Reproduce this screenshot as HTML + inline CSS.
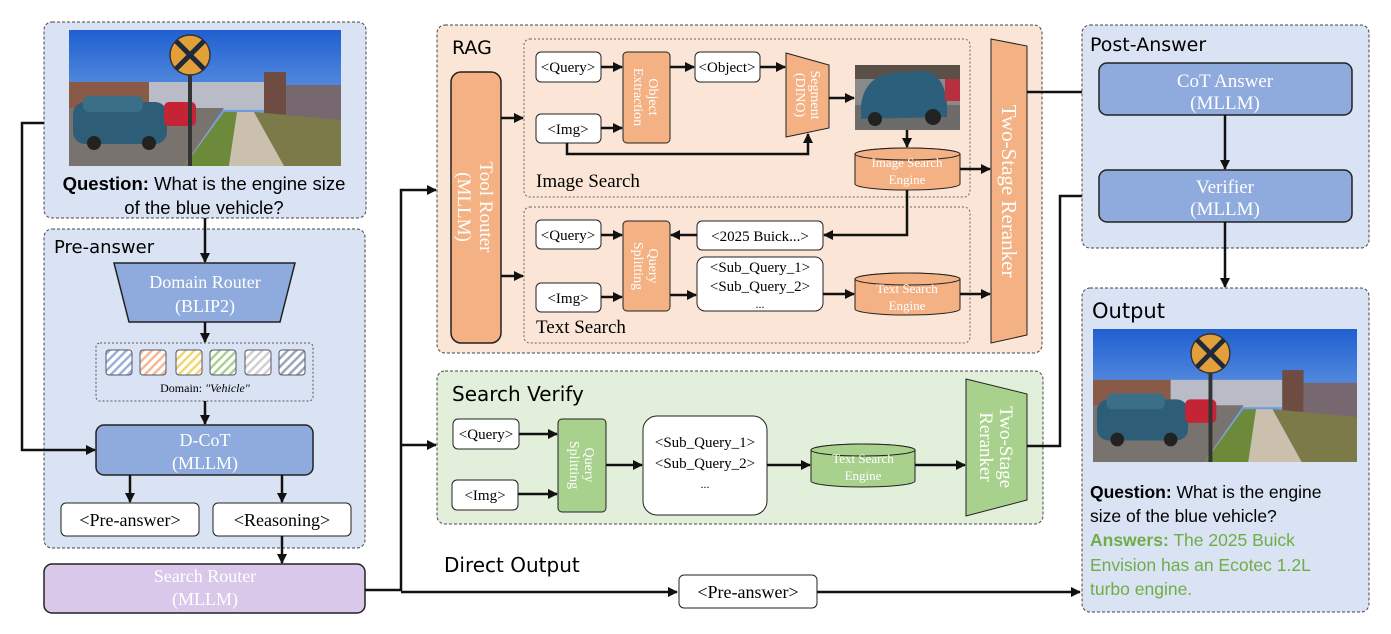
<!DOCTYPE html>
<html><head><meta charset="utf-8"><style>
html,body{margin:0;padding:0;background:#fff}
svg{display:block}
.ser{font-family:"Liberation Serif",serif}
.hand{font-family:"DejaVu Sans",sans-serif}
.san{font-family:"Liberation Sans",sans-serif}
</style></head><body>
<svg width="1391" height="634" viewBox="0 0 1391 634" xmlns="http://www.w3.org/2000/svg">
<defs>
<marker id="a" viewBox="0 0 10 10" refX="9" refY="5" markerWidth="4" markerHeight="4" orient="auto"><path d="M0,0L10,5L0,10z" fill="#111"/></marker>
<linearGradient id="sky" x1="0" y1="0" x2="0" y2="1"><stop offset="0" stop-color="#1f5fd0"/><stop offset="1" stop-color="#9cc4ee"/></linearGradient>
<symbol id="photo" viewBox="0 0 272 136" preserveAspectRatio="none">
<rect width="272" height="136" fill="url(#sky)"/>
<rect x="0" y="52" width="80" height="30" fill="#8a5a48"/>
<rect x="80" y="52" width="115" height="28" fill="#b9bbc6"/>
<rect x="195" y="42" width="22" height="52" fill="#6e4c42"/>
<rect x="217" y="55" width="55" height="38" fill="#76686e"/>
<polygon points="0,78 155,78 115,136 0,136" fill="#78736f"/>
<polygon points="115,136 155,82 168,82 160,136" fill="#6d8a3a"/>
<polygon points="160,136 168,82 185,82 215,136" fill="#cbbfae"/>
<polygon points="185,82 272,90 272,136 215,136" fill="#7c7a48"/>
<rect x="4" y="72" width="94" height="42" rx="12" fill="#2e5e77"/>
<rect x="14" y="66" width="60" height="16" rx="6" fill="#3b6f88"/>
<circle cx="25" cy="113" r="7" fill="#222"/><circle cx="80" cy="113" r="7" fill="#222"/>
<rect x="95" y="72" width="32" height="24" rx="5" fill="#c42436"/>
<rect x="119" y="40" width="4" height="96" fill="#333"/>
<circle cx="121" cy="25" r="20" fill="#e3a03a" stroke="#333" stroke-width="1.5"/>
<path d="M107,11L135,39M135,11L107,39" stroke="#1e2a3a" stroke-width="5"/>
</symbol>
<pattern id="h1" width="6" height="6" patternUnits="userSpaceOnUse" patternTransform="rotate(45)"><rect width="6" height="6" fill="#fff"/><rect width="2.5" height="6" fill="#9ab0dc"/></pattern>
<pattern id="h2" width="6" height="6" patternUnits="userSpaceOnUse" patternTransform="rotate(45)"><rect width="6" height="6" fill="#fff"/><rect width="2.5" height="6" fill="#f4b896"/></pattern>
<pattern id="h3" width="6" height="6" patternUnits="userSpaceOnUse" patternTransform="rotate(45)"><rect width="6" height="6" fill="#fff"/><rect width="2.5" height="6" fill="#f5d66e"/></pattern>
<pattern id="h4" width="6" height="6" patternUnits="userSpaceOnUse" patternTransform="rotate(45)"><rect width="6" height="6" fill="#fff"/><rect width="2.5" height="6" fill="#a8d192"/></pattern>
<pattern id="h5" width="6" height="6" patternUnits="userSpaceOnUse" patternTransform="rotate(45)"><rect width="6" height="6" fill="#fff"/><rect width="2.5" height="6" fill="#cfcfcf"/></pattern>
<pattern id="h6" width="6" height="6" patternUnits="userSpaceOnUse" patternTransform="rotate(45)"><rect width="6" height="6" fill="#fff"/><rect width="2.5" height="6" fill="#9ca6b8"/></pattern>
</defs>

<!-- Left column -->
<rect x="44" y="22" width="322" height="196" rx="8" fill="#dae3f3" stroke="#444" stroke-dasharray="3,2"/>
<use href="#photo" x="69" y="30" width="272" height="136"/>
<text x="204" y="190" text-anchor="middle" class="san" font-size="18.5"><tspan font-weight="bold">Question:</tspan> What is the engine size</text>
<text x="204" y="214" text-anchor="middle" class="san" font-size="18.5">of the blue vehicle?</text>

<rect x="44" y="229" width="321" height="319" rx="8" fill="#dae3f3" stroke="#444" stroke-dasharray="3,2"/>
<text x="54" y="253" class="hand" font-size="18">Pre-answer</text>
<line x1="205" y1="218" x2="205" y2="262" stroke="#111" stroke-width="2.5" marker-end="url(#a)"/>
<polygon points="114,263 295,263 280,322 129,322" fill="#8faadc" stroke="#222" stroke-width="1.5"/>
<text x="205" y="288" text-anchor="middle" class="ser" font-size="18" fill="#fff">Domain Router</text>
<text x="205" y="312" text-anchor="middle" class="ser" font-size="18" fill="#fff">(BLIP2)</text>
<line x1="205" y1="322" x2="205" y2="342" stroke="#111" stroke-width="2.5" marker-end="url(#a)"/>
<rect x="96" y="343" width="217" height="58" rx="4" fill="#dae3f3" stroke="#555" stroke-dasharray="2,2"/>
<rect x="106" y="350" width="26" height="25" rx="3" fill="url(#h1)" stroke="#556" />
<rect x="140" y="350" width="26" height="25" rx="3" fill="url(#h2)" stroke="#556"/>
<rect x="176" y="350" width="26" height="25" rx="3" fill="url(#h3)" stroke="#556"/>
<rect x="210" y="350" width="26" height="25" rx="3" fill="url(#h4)" stroke="#556"/>
<rect x="245" y="350" width="26" height="25" rx="3" fill="url(#h5)" stroke="#556"/>
<rect x="279" y="350" width="26" height="25" rx="3" fill="url(#h6)" stroke="#556"/>
<text x="205" y="392" text-anchor="middle" class="ser" font-size="12">Domain: <tspan font-style="italic">"Vehicle"</tspan></text>
<line x1="205" y1="401" x2="205" y2="424" stroke="#111" stroke-width="2.5" marker-end="url(#a)"/>
<rect x="96" y="425" width="217" height="50" rx="8" fill="#8faadc" stroke="#222" stroke-width="1.5"/>
<text x="205" y="446" text-anchor="middle" class="ser" font-size="18" fill="#fff">D-CoT</text>
<text x="205" y="469" text-anchor="middle" class="ser" font-size="18" fill="#fff">(MLLM)</text>
<polyline points="44,123 22,123 22,450 95,450" fill="none" stroke="#111" stroke-width="2.5" marker-end="url(#a)"/>
<line x1="130" y1="475" x2="130" y2="502" stroke="#111" stroke-width="2.5" marker-end="url(#a)"/>
<line x1="282" y1="475" x2="282" y2="502" stroke="#111" stroke-width="2.5" marker-end="url(#a)"/>
<rect x="61" y="503" width="138" height="33" rx="5" fill="#fff" stroke="#222"/>
<text x="130" y="526" text-anchor="middle" class="ser" font-size="18">&lt;Pre-answer&gt;</text>
<rect x="213" y="503" width="138" height="33" rx="5" fill="#fff" stroke="#222"/>
<text x="282" y="526" text-anchor="middle" class="ser" font-size="18">&lt;Reasoning&gt;</text>
<line x1="282" y1="536" x2="282" y2="563" stroke="#111" stroke-width="2.5" marker-end="url(#a)"/>
<rect x="44" y="564" width="321" height="49" rx="8" fill="#d9c8ea" stroke="#222" stroke-width="1.5"/>
<text x="205" y="582" text-anchor="middle" class="ser" font-size="18" fill="#fff">Search Router</text>
<text x="205" y="605" text-anchor="middle" class="ser" font-size="18" fill="#fff">(MLLM)</text>

<!-- router connections -->
<polyline points="365,590 401,590 401,190 436,190" fill="none" stroke="#111" stroke-width="2.5" marker-end="url(#a)"/>
<line x1="401" y1="445" x2="436" y2="445" stroke="#111" stroke-width="2.5" marker-end="url(#a)"/>
<line x1="401" y1="592" x2="677" y2="592" stroke="#111" stroke-width="2.5" marker-end="url(#a)"/>
<line x1="817" y1="592" x2="1080" y2="592" stroke="#111" stroke-width="2.5" marker-end="url(#a)"/>
<text x="444" y="572" class="hand" font-size="20">Direct Output</text>
<rect x="679" y="575" width="138" height="33" rx="5" fill="#fff" stroke="#222"/>
<text x="748" y="598" text-anchor="middle" class="ser" font-size="18">&lt;Pre-answer&gt;</text>

<!-- RAG -->
<rect x="437" y="25" width="605" height="328" rx="8" fill="#fbe5d6" stroke="#444" stroke-dasharray="3,2"/>
<text x="452" y="54" class="hand" font-size="19">RAG</text>
<rect x="451" y="72" width="50" height="271" rx="10" fill="#f4b183" stroke="#222" stroke-width="1.5"/>
<text transform="translate(476,207) rotate(90)" text-anchor="middle" class="ser" font-size="19" fill="#fff"><tspan x="0" dy="-4">Tool Router</tspan><tspan x="0" dy="22">(MLLM)</tspan></text>
<rect x="524" y="39" width="446" height="158" rx="6" fill="none" stroke="#666" stroke-dasharray="2,2"/>
<rect x="524" y="207" width="446" height="136" rx="6" fill="none" stroke="#666" stroke-dasharray="2,2"/>
<line x1="501" y1="118" x2="523" y2="118" stroke="#111" stroke-width="2.5" marker-end="url(#a)"/>
<line x1="501" y1="276" x2="523" y2="276" stroke="#111" stroke-width="2.5" marker-end="url(#a)"/>
<text x="536" y="187" class="ser" font-size="19">Image Search</text>
<text x="536" y="333" class="ser" font-size="19">Text Search</text>

<rect x="536" y="52" width="65" height="30" rx="5" fill="#fff" stroke="#222"/>
<text x="568" y="72" text-anchor="middle" class="ser" font-size="15">&lt;Query&gt;</text>
<rect x="536" y="114" width="65" height="29" rx="5" fill="#fff" stroke="#222"/>
<text x="568" y="134" text-anchor="middle" class="ser" font-size="15">&lt;Img&gt;</text>
<line x1="601" y1="67" x2="622" y2="67" stroke="#111" stroke-width="2.5" marker-end="url(#a)"/>
<line x1="601" y1="128" x2="622" y2="128" stroke="#111" stroke-width="2.5" marker-end="url(#a)"/>
<rect x="623" y="52" width="47" height="91" rx="4" fill="#f4b183" stroke="#222"/>
<text transform="translate(646,97) rotate(90)" text-anchor="middle" class="ser" font-size="14" fill="#fff"><tspan x="0" dy="-3">Object</tspan><tspan x="0" dy="15">Extraction</tspan></text>
<line x1="670" y1="67" x2="694" y2="67" stroke="#111" stroke-width="2.5" marker-end="url(#a)"/>
<rect x="695" y="52" width="65" height="30" rx="5" fill="#fff" stroke="#222"/>
<text x="727" y="72" text-anchor="middle" class="ser" font-size="15">&lt;Object&gt;</text>
<line x1="760" y1="67" x2="785" y2="67" stroke="#111" stroke-width="2.5" marker-end="url(#a)"/>
<polygon points="786,53 829,65 829,128 786,137" fill="#f4b183" stroke="#222"/>
<text transform="translate(808,95) rotate(90)" text-anchor="middle" class="ser" font-size="14" fill="#fff"><tspan x="0" dy="-3">Segment</tspan><tspan x="0" dy="15">(DINO)</tspan></text>
<polyline points="567,143 567,154 808,154 808,134" fill="none" stroke="#111" stroke-width="2.5" marker-end="url(#a)"/>
<line x1="829" y1="98" x2="854" y2="98" stroke="#111" stroke-width="2.5" marker-end="url(#a)"/>
<svg x="855" y="65" width="105" height="65" viewBox="0 0 105 65" preserveAspectRatio="none">
<rect width="105" height="65" fill="#8a8a88"/><rect width="105" height="14" fill="#5a5048"/>
<rect x="0" y="40" width="105" height="25" fill="#6d6c6a"/>
<path d="M6,40 Q10,10 40,8 L70,6 Q90,10 92,40 L92,52 L6,54z" fill="#2c5f7b"/>
<circle cx="78" cy="52" r="8" fill="#222"/><circle cx="20" cy="54" r="7" fill="#222"/>
<rect x="90" y="14" width="15" height="22" fill="#b83040"/>
</svg>
<line x1="907" y1="130" x2="907" y2="147" stroke="#111" stroke-width="2.5" marker-end="url(#a)"/>
<path d="M855,154 L855,184 A52,6 0 0 0 960,184 L960,154 A52,6 0 0 0 855,154z" fill="#f4b183" stroke="#222"/>
<ellipse cx="907.5" cy="154" rx="52.5" ry="6" fill="#f4b183" stroke="#222"/>
<text x="907" y="167" text-anchor="middle" class="ser" font-size="13" fill="#fff">Image Search</text>
<text x="907" y="184" text-anchor="middle" class="ser" font-size="13" fill="#fff">Engine</text>
<line x1="960" y1="169" x2="990" y2="169" stroke="#111" stroke-width="2.5" marker-end="url(#a)"/>
<polyline points="907,190 907,235 824,235" fill="none" stroke="#111" stroke-width="2.5" marker-end="url(#a)"/>

<rect x="536" y="220" width="65" height="29" rx="5" fill="#fff" stroke="#222"/>
<text x="568" y="240" text-anchor="middle" class="ser" font-size="15">&lt;Query&gt;</text>
<rect x="536" y="283" width="65" height="29" rx="5" fill="#fff" stroke="#222"/>
<text x="568" y="303" text-anchor="middle" class="ser" font-size="15">&lt;Img&gt;</text>
<line x1="601" y1="235" x2="622" y2="235" stroke="#111" stroke-width="2.5" marker-end="url(#a)"/>
<line x1="601" y1="297" x2="622" y2="297" stroke="#111" stroke-width="2.5" marker-end="url(#a)"/>
<rect x="623" y="221" width="47" height="90" rx="4" fill="#f4b183" stroke="#222"/>
<text transform="translate(646,266) rotate(90)" text-anchor="middle" class="ser" font-size="14" fill="#fff"><tspan x="0" dy="-3">Query</tspan><tspan x="0" dy="15">Splitting</tspan></text>
<rect x="697" y="221" width="126" height="29" rx="5" fill="#fff" stroke="#222"/>
<text x="760" y="241" text-anchor="middle" class="ser" font-size="15">&lt;2025 Buick...&gt;</text>
<line x1="697" y1="235" x2="671" y2="235" stroke="#111" stroke-width="2.5" marker-end="url(#a)"/>
<rect x="697" y="257" width="126" height="54" rx="8" fill="#fff" stroke="#222"/>
<text x="760" y="272" text-anchor="middle" class="ser" font-size="15">&lt;Sub_Query_1&gt;</text>
<text x="760" y="291" text-anchor="middle" class="ser" font-size="15">&lt;Sub_Query_2&gt;</text>
<text x="760" y="308" text-anchor="middle" class="ser" font-size="12">...</text>
<line x1="670" y1="295" x2="696" y2="295" stroke="#111" stroke-width="2.5" marker-end="url(#a)"/>
<line x1="823" y1="294" x2="854" y2="294" stroke="#111" stroke-width="2.5" marker-end="url(#a)"/>
<path d="M855,279 L855,309 A52,6 0 0 0 960,309 L960,279 A52,6 0 0 0 855,279z" fill="#f4b183" stroke="#222"/>
<ellipse cx="907.5" cy="279" rx="52.5" ry="6" fill="#f4b183" stroke="#222"/>
<text x="907" y="293" text-anchor="middle" class="ser" font-size="13" fill="#fff">Text Search</text>
<text x="907" y="310" text-anchor="middle" class="ser" font-size="13" fill="#fff">Engine</text>
<line x1="960" y1="294" x2="990" y2="294" stroke="#111" stroke-width="2.5" marker-end="url(#a)"/>

<polygon points="991,39 1027,46 1027,335 991,343" fill="#f4b183" stroke="#222"/>
<text transform="translate(1009,191) rotate(90)" text-anchor="middle" dy="7" class="ser" font-size="21" fill="#fff">Two-Stage Reranker</text>
<polyline points="1027,92 1098,92" fill="none" stroke="#111" stroke-width="2.5" marker-end="url(#a)"/>

<!-- Search Verify -->
<rect x="437" y="371" width="606" height="153" rx="8" fill="#e2efda" stroke="#444" stroke-dasharray="3,2"/>
<text x="452" y="401" class="hand" font-size="20">Search Verify</text>
<rect x="453" y="419" width="66" height="30" rx="5" fill="#fff" stroke="#222"/>
<text x="486" y="439" text-anchor="middle" class="ser" font-size="15">&lt;Query&gt;</text>
<rect x="452" y="480" width="66" height="30" rx="5" fill="#fff" stroke="#222"/>
<text x="485" y="500" text-anchor="middle" class="ser" font-size="15">&lt;Img&gt;</text>
<line x1="519" y1="434" x2="557" y2="434" stroke="#111" stroke-width="2.5" marker-end="url(#a)"/>
<line x1="518" y1="494" x2="557" y2="494" stroke="#111" stroke-width="2.5" marker-end="url(#a)"/>
<rect x="558" y="419" width="48" height="93" rx="4" fill="#a9d18e" stroke="#222"/>
<text transform="translate(582,465) rotate(90)" text-anchor="middle" class="ser" font-size="14" fill="#fff"><tspan x="0" dy="-3">Query</tspan><tspan x="0" dy="15">Splitting</tspan></text>
<line x1="606" y1="465" x2="642" y2="465" stroke="#111" stroke-width="2.5" marker-end="url(#a)"/>
<rect x="643" y="416" width="124" height="99" rx="14" fill="#fff" stroke="#222"/>
<text x="705" y="447" text-anchor="middle" class="ser" font-size="15">&lt;Sub_Query_1&gt;</text>
<text x="705" y="468" text-anchor="middle" class="ser" font-size="15">&lt;Sub_Query_2&gt;</text>
<text x="705" y="488" text-anchor="middle" class="ser" font-size="12">...</text>
<line x1="767" y1="465" x2="810" y2="465" stroke="#111" stroke-width="2.5" marker-end="url(#a)"/>
<path d="M811,450 L811,481 A52,6 0 0 0 915,481 L915,450 A52,6 0 0 0 811,450z" fill="#a9d18e" stroke="#222"/>
<ellipse cx="863" cy="450" rx="52" ry="6" fill="#a9d18e" stroke="#222"/>
<text x="863" y="463" text-anchor="middle" class="ser" font-size="13" fill="#fff">Text Search</text>
<text x="863" y="480" text-anchor="middle" class="ser" font-size="13" fill="#fff">Engine</text>
<line x1="915" y1="465" x2="965" y2="465" stroke="#111" stroke-width="2.5" marker-end="url(#a)"/>
<polygon points="966,379 1027,394 1027,500 966,516" fill="#a9d18e" stroke="#222"/>
<text transform="translate(997,447) rotate(90)" text-anchor="middle" class="ser" font-size="19" fill="#fff"><tspan x="0" dy="-3">Two-Stage</tspan><tspan x="0" dy="20">Reranker</tspan></text>
<polyline points="1027,446 1060,446 1060,196 1098,196" fill="none" stroke="#111" stroke-width="2.5" marker-end="url(#a)"/>

<!-- Post-answer -->
<rect x="1082" y="25" width="287" height="223" rx="8" fill="#dae3f3" stroke="#444" stroke-dasharray="3,2"/>
<text x="1090" y="51" class="hand" font-size="19">Post-Answer</text>
<rect x="1099" y="63" width="253" height="52" rx="8" fill="#8faadc" stroke="#222" stroke-width="1.5"/>
<text x="1225" y="87" text-anchor="middle" class="ser" font-size="19" fill="#fff">CoT Answer</text>
<text x="1225" y="109" text-anchor="middle" class="ser" font-size="19" fill="#fff">(MLLM)</text>
<line x1="1225" y1="115" x2="1225" y2="169" stroke="#111" stroke-width="2.5" marker-end="url(#a)"/>
<rect x="1099" y="170" width="253" height="52" rx="8" fill="#8faadc" stroke="#222" stroke-width="1.5"/>
<text x="1225" y="193" text-anchor="middle" class="ser" font-size="19" fill="#fff">Verifier</text>
<text x="1225" y="215" text-anchor="middle" class="ser" font-size="19" fill="#fff">(MLLM)</text>
<line x1="1225" y1="222" x2="1225" y2="287" stroke="#111" stroke-width="2.5" marker-end="url(#a)"/>

<rect x="1082" y="288" width="287" height="324" rx="8" fill="#dae3f3" stroke="#444" stroke-dasharray="3,2"/>
<text x="1092" y="318" class="hand" font-size="21">Output</text>
<use href="#photo" x="1093" y="329" width="264" height="133"/>
<text x="1090" y="498" class="san" font-size="17.5"><tspan font-weight="bold">Question:</tspan> What is the engine</text>
<text x="1090" y="522" class="san" font-size="17.5">size of the blue vehicle?</text>
<text x="1090" y="546" class="san" font-size="17.5" fill="#70ad47"><tspan font-weight="bold">Answers:</tspan> The 2025 Buick</text>
<text x="1090" y="571" class="san" font-size="17.5" fill="#70ad47">Envision has an Ecotec 1.2L</text>
<text x="1090" y="595" class="san" font-size="17.5" fill="#70ad47">turbo engine.</text>
</svg>
</body></html>
